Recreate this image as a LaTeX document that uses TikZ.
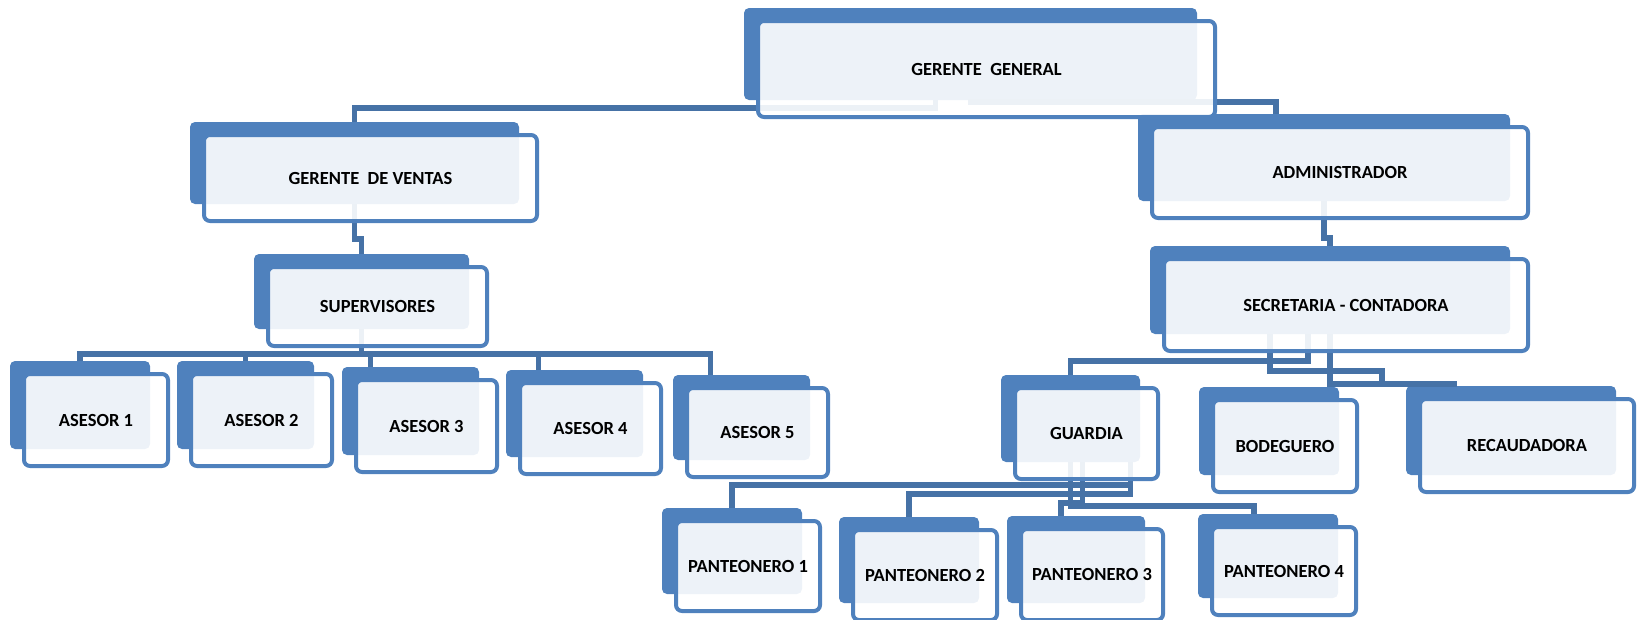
\documentclass[tikz,border=0pt]{standalone}
\usepackage{fontspec}
\setmainfont{Carlito}
\usepackage{tikz}
\usetikzlibrary{calc,fit}
\pgfdeclarelayer{background}
\pgfsetlayers{background,main}
\definecolor{boxblue}{RGB}{79,129,189}
\definecolor{linkblue}{RGB}{70,114,166}

\begin{document}
\begin{tikzpicture}[
  x=1pt,y=-1pt,
  every node/.style={font=\bfseries\fontsize{18.5}{20}\selectfont,align=center},
  front/.style={draw=boxblue,line width=4pt,rounded corners=6pt,
    fill=white,fill opacity=0.9,text opacity=1,inner sep=0pt},
  back/.style={fill=boxblue,rounded corners=5pt,inner sep=0pt,outer sep=0pt},
  link/.style={draw=linkblue,line width=5.5pt}
]
  \useasboundingbox (0,0) rectangle (1638,619);

  % cajas (frente)
  \foreach \n/\x/\y/\w/\h/\t in {
    gg/986.5/69/457/96/GERENTE\ \ GENERAL,
    ventas/370.5/178/333/86/GERENTE\ \ DE VENTAS,
    sup/377.5/306.5/219/79/SUPERVISORES,
    admin/1340/172.5/376/91/ADMINISTRADOR,
    sec/1346/305/364/92/SECRETARIA - CONTADORA,
    a1/96/420/144/92/ASESOR 1,
    a2/261.5/420/141/92/ASESOR 2,
    a3/426.5/426/141/92/ASESOR 3,
    a4/590.5/428.5/141/91/ASESOR 4,
    a5/757.5/432.5/141/89/ASESOR 5,
    guardia/1086.5/433.5/143/91/GUARDIA,
    bodeguero/1285/446/144/92/BODEGUERO,
    recaud/1527/445.5/214/93/RECAUDADORA,
    p1/748/566/144/90/PANTEONERO 1,
    p2/925/575/144/90/PANTEONERO 2,
    p3/1092/574.5/142/91/PANTEONERO 3,
    p4/1284/571/144/88/PANTEONERO 4}
    \node[front,minimum width=\w pt,minimum height=\h pt] (\n) at (\x,\y) {\t};

  \begin{pgfonlayer}{background}
    % cajas (fondo azul)
    \foreach \n in {gg,ventas,sup,admin,sec,a1,a2,a3,a4,a5,
                    guardia,bodeguero,recaud,p1,p2,p3,p4}
      \node[back,fit={([shift={(-12,-11)}]\n.north west)
                      ([shift={(-20,-19)}]\n.south east)}] (\n-b) {};

    % conectores
    \draw[link] ([xshift=-35pt]gg-b.south) -- ++(0,8) -| (ventas-b.north);
    \draw[link] ([xshift=-3pt,yshift=-2pt]gg-b.south) -| ([xshift=-48pt]admin-b.north);

    \draw[link] (ventas-b.south) -- ++(0,35) -| (sup-b.north);
    \draw[link] (sup-b.south) -- ++(0,25) coordinate (supbus);
    \foreach \a/\s in {a1/0,a2/0,a3/-40,a4/-36,a5/-31}
      \draw[link] (supbus) -| ([xshift=\s pt]\a-b.north);

    \draw[link] (admin-b.south) -- ++(0,37) -| (sec-b.north);
    \draw[link] ([xshift=-22pt]sec-b.south) -- ++(0,27) -| (guardia-b.north);
    \draw[link] ([xshift=-60pt]sec-b.south) -- ++(0,37) -- ++(112,0)
      -- ++(0,12) coordinate (bodtip);
    \draw[link] (sec-b.south) -- ++(0,50) -- ++(127,0) coordinate (rectip);

    \draw[link] ([xshift=60pt]guardia-b.south) -- ++(0,23) -| (p1-b.north);
    \draw[link] ([xshift=60pt]guardia-b.south) -- ++(0,32) -| (p2-b.north);
    \draw[link] ([xshift=12pt]guardia-b.south) -- ++(0,41) -| ([xshift=-15pt]p3-b.north);
    \draw[link] (guardia-b.south) -- ++(0,44) -| ([xshift=-14pt]p4-b.north);
  \end{pgfonlayer}
\end{tikzpicture}
\end{document}
